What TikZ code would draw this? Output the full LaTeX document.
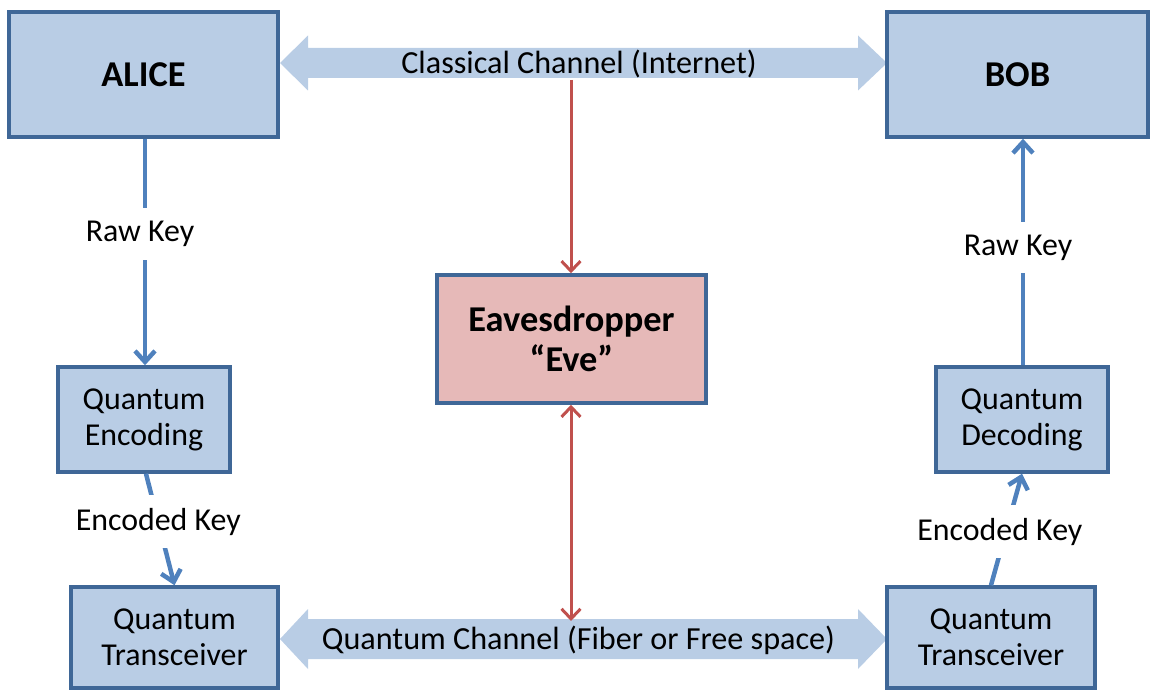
\documentclass[tikz,border=0pt]{standalone}
\usepackage{fontspec}
\setmainfont{Carlito}
\usetikzlibrary{arrows.meta}

\definecolor{boxfill}{HTML}{B9CDE5}
\definecolor{boxedge}{HTML}{3F6797}
\definecolor{evefill}{HTML}{E6B9B8}
\definecolor{keyline}{HTML}{4F81BD}
\definecolor{tapline}{HTML}{C0504D}

\tikzset{
  party/.style={draw=boxedge, line width=3.5bp, fill=boxfill, inner sep=0pt,
    font=\fontsize{36.5}{40}\selectfont\bfseries},
  stage/.style={draw=boxedge, line width=3.5bp, fill=boxfill, inner sep=0pt,
    align=center, font=\fontsize{32}{36}\selectfont},
  spy/.style={draw=boxedge, line width=3.5bp, fill=evefill, inner sep=0pt,
    align=center, font=\fontsize{36.5}{40}\selectfont\bfseries},
  channel/.style={fill=boxfill},
  chantext/.style={inner sep=0pt, font=\fontsize{32.3}{36}\selectfont},
  keyflow/.style={draw=keyline, line width=4.5bp,
    -{Straight Barb[length=11bp, width=20bp, line width=4.5bp]}},
  tap/.style={draw=tapline, line width=3bp,
    -{Straight Barb[length=10bp, width=19bp, line width=3bp]}},
  twotap/.style={draw=tapline, line width=3bp,
    {Straight Barb[length=10bp, width=19bp, line width=3bp]}-{Straight Barb[length=10bp, width=19bp, line width=3bp]}},
  lbl/.style={fill=white, inner xsep=2bp, inner ysep=13bp,
    font=\fontsize{32}{36}\selectfont},
}

\begin{document}
\begin{tikzpicture}[x=1bp, y=-1bp]
\useasboundingbox (0,0) rectangle (1151,690);

% classical and quantum channels (wide double arrows)
\fill[channel] (280,63) -- (308,35.5) -- (308,48) -- (858,48) -- (858,35.5)
  -- (887,63) -- (858,90.5) -- (858,78) -- (308,78) -- (308,90.5) -- cycle;
\fill[channel] (280,639) -- (308,609) -- (308,619) -- (858,619) -- (858,609)
  -- (887,639) -- (858,669) -- (858,659) -- (308,659) -- (308,669) -- cycle;
\node[chantext] (classical) at (579,64) {Classical Channel (Internet)};
\node[chantext] (quantum) at (578.5,640) {Quantum Channel (Fiber or Free space)};
\coordinate (ctap) at (571,80);
\coordinate (qtap) at (571,621);

% parties and processing stages
\node[party, minimum width=269bp, minimum height=125bp] (alice) at (143.5,74.5) {ALICE};
\node[party, minimum width=261bp, minimum height=125bp] (bob) at (1017.5,74.5) {BOB};
\node[spy, minimum width=269bp, minimum height=128bp] (eve) at (571.5,339) {Eavesdropper\\“Eve”};
\node[stage, minimum width=172bp, minimum height=105bp] (enc) at (144,419.5) {Quantum\\Encoding};
\node[stage, minimum width=172bp, minimum height=105bp] (dec) at (1022,419.5) {Quantum\\Decoding};
\node[stage, minimum width=207bp, minimum height=101bp] (txl) at (174.5,637.5) {Quantum\\Transceiver};
\node[stage, minimum width=208bp, minimum height=101bp] (txr) at (991,637.5) {Quantum\\Transceiver};

% key flow
\draw[keyflow] ([xshift=1.5bp]alice.south) -- node[lbl, pos=0.42, xshift=-5bp] {Raw Key} ([xshift=1bp]enc.north);
\draw[keyflow] ([xshift=2bp]enc.south) -- node[lbl, pos=0.43] {Encoded Key} (txl.north);
\draw[keyflow] (txr.north) -- node[lbl, pos=0.48, xshift=-6bp] {Encoded Key} (dec.south);
\draw[keyflow] ([xshift=1bp]dec.north) -- node[lbl, pos=0.52, xshift=-5bp] {Raw Key} ([xshift=1bp]dec.north |- bob.south);

% eavesdropper taps
\draw[tap] (ctap) -- (eve.north -| ctap);
\draw[twotap] (eve.south -| qtap) -- (qtap);
\end{tikzpicture}
\end{document}
